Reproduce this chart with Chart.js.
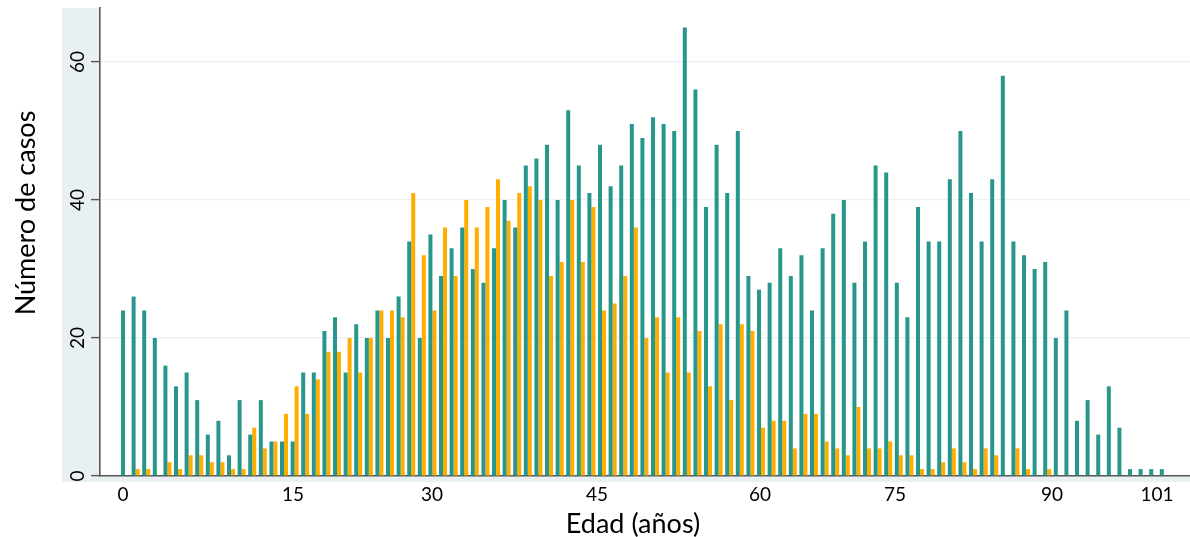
<!DOCTYPE html>
<html lang="es">
<head>
<meta charset="utf-8">
<title>Número de casos por edad</title>
<script src="https://cdn.jsdelivr.net/npm/chart.js@4.4.1/dist/chart.umd.min.js"></script>
<style>
  html, body { margin: 0; padding: 0; background: #ffffff; }
  #grafico { display: block; }
</style>
</head>
<body>
<canvas id="grafico" width="1190" height="537"></canvas>
<script>
/* --------------- Datos --------------------- */
// una barra por posición del eje, de izquierda a derecha
const casosVerde = [
  24, 26, 24, 20, 16, 13, 15, 11, 6, 8,
  3, 11, 6, 11, 5, 5, 5, 15, 15, 21,
  23, 15, 22, 20, 24, 20, 26, 34, 20, 35,
  29, 33, 36, 30, 28, 33, 40, 36, 45, 46,
  48, 40, 53, 45, 41, 48, 42, 45, 51, 49,
  52, 51, 50, 65, 56, 39, 48, 41, 50, 29,
  27, 28, 33, 29, 32, 24, 33, 38, 40, 28,
  34, 45, 44, 28, 23, 39, 34, 34, 43, 50,
  41, 34, 43, 58, 34, 32, 30, 31, 20, 24,
  8, 11, 6, 13, 7, 1, 1, 1, 1
];
const casosNaranja = [
  0, 1, 1, 0, 2, 1, 3, 3, 2, 2,
  1, 1, 7, 4, 5, 9, 13, 9, 14, 18,
  18, 20, 15, 20, 24, 24, 23, 41, 32, 24,
  36, 29, 40, 36, 39, 43, 37, 41, 42, 40,
  29, 31, 40, 31, 39, 24, 25, 29, 36, 20,
  23, 15, 23, 15, 21, 13, 22, 11, 22, 21,
  7, 8, 8, 4, 9, 9, 5, 4, 3, 10,
  4, 4, 5, 3, 3, 1, 1, 2, 4, 2,
  1, 4, 3, 0, 4, 1, 0, 1, 0, 0,
  0, 0, 0, 0, 0, 0, 0, 0, 0
];
const categorias = casosVerde.map((_, i) => i);
const etiquetasEdad = ["0", "15", "30", "45", "60", "75", "90", "101"];
const etiquetasY = [0, 20, 40, 60];

/* --------------- Estilo --------------------- */
const colorVerde = "#27978c";
const colorNaranja = "#ffae00";
const colorEje = "#555555";
const colorRejilla = "#e9f0f1";
const colorBanda = "#e8f0f2";
const fuente = "Lato, 'Noto Sans', sans-serif";

// sitio de cada etiqueta del eje x, en unidades de la escala
const sitioEtiquetas = [-0.19, 15.85, 28.96, 44.53, 59.91, 72.64, 87.45, 97.36];

/* --------------- Bandas y títulos de los ejes --------------------- */
const bandasYTitulos = {
  id: "bandasYTitulos",
  beforeDraw(chart) {
    const { ctx, chartArea } = chart;
    ctx.save();
    ctx.fillStyle = colorBanda;
    ctx.fillRect(62, chartArea.top, chartArea.left - 62, chartArea.bottom + 6 - chartArea.top);
    ctx.fillRect(chartArea.left, chartArea.bottom, chartArea.right - chartArea.left, 6);
    ctx.restore();
  },
  afterDraw(chart) {
    const { ctx } = chart;
    ctx.save();
    ctx.fillStyle = "#000000";
    ctx.font = "27px " + fuente;
    ctx.textAlign = "center";
    ctx.textBaseline = "alphabetic";
    ctx.fillText("Edad (años)", 633, 533);
    ctx.translate(35, 213);
    ctx.rotate(-Math.PI / 2);
    ctx.fillText("Número de casos", 0, 0);
    ctx.restore();
  },
};

/* --------------- Gráfico --------------------- */
new Chart(document.getElementById("grafico"), {
  type: "bar",
  plugins: [bandasYTitulos],
  data: {
    labels: categorias,
    datasets: [
      { data: casosVerde, backgroundColor: colorVerde, borderWidth: 0 },
      { data: casosNaranja, backgroundColor: colorNaranja, borderWidth: 0 },
    ],
  },
  options: {
    responsive: false,
    animation: false,
    devicePixelRatio: 1,
    layout: { padding: { top: 8, right: 0, bottom: 0, left: 0 } },
    datasets: { bar: { categoryPercentage: 0.755, barPercentage: 1 } },
    plugins: { legend: { display: false }, tooltip: { enabled: false } },
    scales: {
      x: {
        type: "linear",
        min: -2.36,
        max: 100.47,
        offset: false,
        afterFit: (scale) => { scale.height = 61; },
        afterBuildTicks: (scale) => {
          scale.ticks = sitioEtiquetas.map((v) => ({ value: v }));
        },
        grid: { display: false, drawTicks: false, offset: false },
        border: { display: true, color: colorEje, width: 1.6 },
        ticks: {
          autoSkip: false,
          maxRotation: 0,
          padding: 7,
          color: "#000000",
          font: { family: fuente, size: 19 },
          callback: (value, index) => etiquetasEdad[index],
        },
      },
      y: {
        min: 0,
        max: 67.83,
        afterFit: (scale) => {
          scale.width = 100;
          scale.paddingTop = 0;
          scale.paddingBottom = 0;
        },
        afterBuildTicks: (scale) => {
          scale.ticks = etiquetasY.map((v) => ({ value: v }));
        },
        grid: {
          color: colorRejilla,
          lineWidth: 1.2,
          drawTicks: true,
          tickLength: 9,
          tickColor: colorEje,
          tickWidth: 1.4,
        },
        border: { display: true, color: colorEje, width: 1.6 },
        ticks: {
          minRotation: 90,
          maxRotation: 90,
          crossAlign: "center",
          padding: 2,
          color: "#000000",
          font: { family: fuente, size: 19 },
          callback: (value) => String(value),
        },
      },
    },
  },
});
</script>
</body>
</html>
